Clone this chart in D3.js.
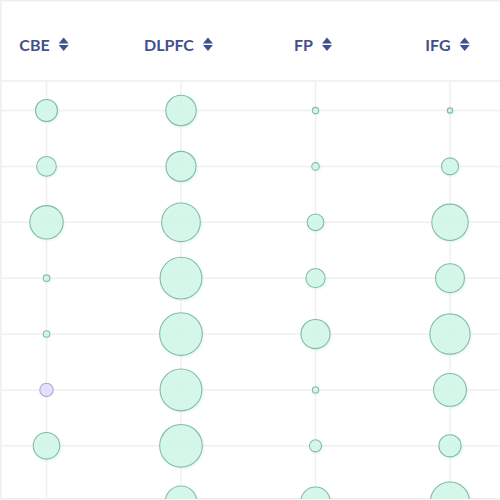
<!DOCTYPE html>
<html>
<head>
<meta charset="utf-8">
<script src="https://cdn.jsdelivr.net/npm/d3@7"></script>
<style>
  html, body { margin: 0; padding: 0; background: #fff; }
  svg { display: block; }
</style>
</head>
<body>
<svg id="chart" width="500" height="500"></svg>
<script>
// ---- data ----
const columns = ["CBE", "DLPFC", "FP", "IFG"];
const rows = ["r1", "r2", "r3", "r4", "r5", "r6", "r7", "r8"];
const valuesCBE   = [25.9, 20.7, 59.7, 2.3, 2.3, 9.6, 37.7, 0];
const valuesDLPFC = [49.6, 48.4, 80.2, 93.7, 97.3, 93.7, 97.3, 52.9];
const valuesFP    = [2.1, 3.0, 14.9, 19.8, 45.3, 2.1, 7.9, 46.5];
const valuesIFG   = [1.5, 15.6, 70.7, 44.6, 86.8, 57.6, 26.4, 82.6];
const highlighted = [["CBE", "r6"]];

const series = { CBE: valuesCBE, DLPFC: valuesDLPFC, FP: valuesFP, IFG: valuesIFG };
const cells = [];
columns.forEach(c => rows.forEach((r, i) => {
  cells.push({ col: c, row: r, value: series[c][i],
    hl: highlighted.some(h => h[0] === c && h[1] === r) });
}));

const svg = d3.select("#chart");
const W = 500, H = 500, headerH = 81;

const x = d3.scalePoint().domain(columns).range([46.5, 450]);
const y = d3.scalePoint().domain(rows).range([110.5, 501.7]);
const rScale = d3.scaleSqrt().domain([0, 100]).range([0, 21.6]);

// shadow filter
const defs = svg.append("defs");
const f = defs.append("filter").attr("id", "glow").attr("x", "-30%").attr("y", "-30%").attr("width", "160%").attr("height", "160%");
f.append("feDropShadow").attr("dx", 1).attr("dy", 1.2).attr("stdDeviation", 0.8)
  .attr("flood-color", "#c8f6e4").attr("flood-opacity", 0.7);

const clip = defs.append("clipPath").attr("id", "body");
clip.append("rect").attr("x", 0).attr("y", headerH).attr("width", W).attr("height", 499 - headerH);

// borders
svg.append("line").attr("x1", 0).attr("x2", W).attr("y1", 0.75).attr("y2", 0.75)
  .attr("stroke", "#eeeeee").attr("stroke-width", 1.5);
svg.append("line").attr("x1", 0.75).attr("x2", 0.75).attr("y1", 0).attr("y2", 499)
  .attr("stroke", "#eeeeee").attr("stroke-width", 1.5);
svg.append("line").attr("x1", 0).attr("x2", W).attr("y1", headerH).attr("y2", headerH)
  .attr("stroke", "#eeeeee").attr("stroke-width", 1.5);
svg.append("line").attr("x1", 0).attr("x2", W).attr("y1", 498.8).attr("y2", 498.8)
  .attr("stroke", "#eeeeee").attr("stroke-width", 1.5);

const body = svg.append("g").attr("clip-path", "url(#body)");

// grid
body.append("g").selectAll("line.h").data(rows).join("line")
  .attr("x1", 0).attr("x2", W)
  .attr("y1", d => y(d)).attr("y2", d => y(d))
  .attr("stroke", "#f0f0f0").attr("stroke-width", 1.5);
body.append("g").selectAll("line.v").data(columns).join("line")
  .attr("x1", d => x(d)).attr("x2", d => x(d))
  .attr("y1", headerH).attr("y2", H)
  .attr("stroke", "#f0f0f0").attr("stroke-width", 1.5);

// bubbles
body.append("g").selectAll("circle").data(cells.filter(d => d.value > 0)).join("circle")
  .attr("cx", d => x(d.col))
  .attr("cy", d => y(d.row))
  .attr("r", d => rScale(d.value))
  .attr("fill", d => d.hl ? "#ddd4fa" : "#cdf6e6")
  .attr("fill-opacity", 0.7)
  .attr("stroke", d => d.hl ? "#b3a4db" : "#88b9a6")
  .attr("stroke-width", 1.1)
  .attr("filter", d => d.hl ? null : "url(#glow)");

// headers
const hdr = svg.append("g");
columns.forEach(c => {
  const g = hdr.append("g");
  const t = g.append("text")
    .attr("y", 50.7)
    .attr("font-family", "Lato, 'Open Sans', sans-serif")
    .attr("font-weight", 700)
    .attr("font-size", 16)
    .attr("fill", "#42508c")
    .text(c);
  const tw = t.node().getComputedTextLength();
  const gap = 9, iw = 10;
  const total = tw + gap + iw;
  const x0 = x(c) - 2.5 - total / 2;
  t.attr("x", x0);
  const ix = x0 + tw + gap;
  g.append("path")
    .attr("d", `M${ix},43.6 L${ix + iw},43.6 L${ix + iw / 2},37.6 Z`)
    .attr("fill", "#42508c");
  g.append("path")
    .attr("d", `M${ix},45 L${ix + iw},45 L${ix + iw / 2},51 Z`)
    .attr("fill", "#42508c");
});
</script>
</body>
</html>
